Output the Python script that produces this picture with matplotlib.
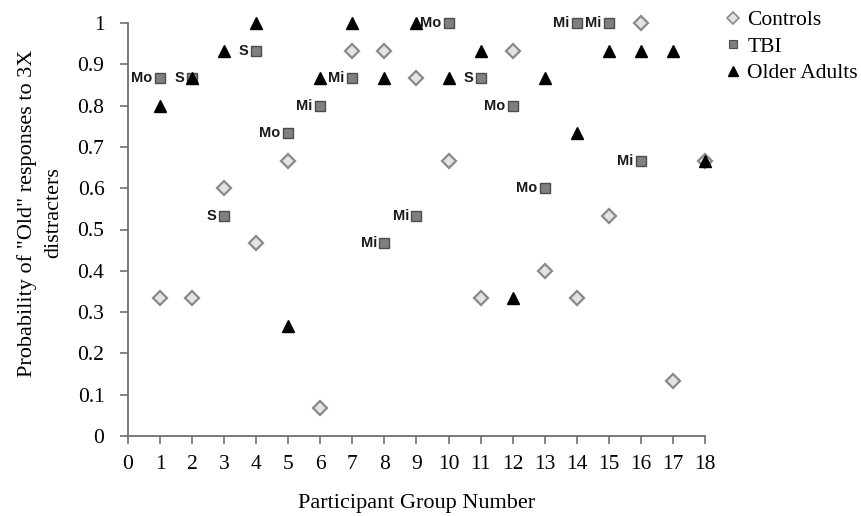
import matplotlib
matplotlib.use("Agg")
from matplotlib import pyplot as plt
from matplotlib.lines import Line2D

# participant groups
groups = list(range(1, 19))
tbi_groups = list(range(1, 17))

# probability of "old" responses to 3X distracters
controls = [0.333, 0.333, 0.6, 0.467, 0.667, 0.067, 0.933, 0.933, 0.867,
            0.667, 0.333, 0.933, 0.4, 0.333, 0.533, 1.0, 0.133, 0.667]
tbi = [0.867, 0.867, 0.533, 0.933, 0.733, 0.8, 0.867, 0.467,
       0.533, 1.0, 0.867, 0.8, 0.6, 1.0, 1.0, 0.667]
tbi_labels = ['Mo', 'S', 'S', 'S', 'Mo', 'Mi', 'Mi', 'Mi',
              'Mi', 'Mo', 'S', 'Mo', 'Mo', 'Mi', 'Mi', 'Mi']
older = [0.8, 0.867, 0.933, 1.0, 0.267, 0.867, 1.0, 0.867, 1.0,
         0.867, 0.933, 0.333, 0.867, 0.733, 0.933, 0.933, 0.933, 0.667]

serif = 'Liberation Serif'

fig = plt.figure(figsize=(8.62, 5.16), dpi=100)
ax = fig.add_axes([128 / 862, 80 / 516, (705 - 128) / 862, (436 - 23) / 516])

ax.plot(groups, controls, linestyle='none', marker='D', ms=7.5,
        mfc='#e3e3e3', mec='#8a8a8a', mew=1.6, clip_on=False, zorder=3)
ax.plot(tbi_groups, tbi, linestyle='none', marker='s', ms=6.5,
        mfc='#808080', mec='#4d4d4d', mew=1.0, clip_on=False, zorder=4)
ax.plot(groups, older, linestyle='none', marker='^', ms=8.5,
        mfc='black', mec='black', clip_on=False, zorder=5)

# severity labels next to the TBI squares
for g, v, lab in zip(tbi_groups, tbi, tbi_labels):
    ax.annotate(lab, (g, v), xytext=(-5.5, 0), textcoords='offset points',
                ha='right', va='center', fontsize=10.5, fontweight='bold',
                family='Liberation Sans', color='#1a1a1a', zorder=6)

ax.set_xlim(0, 18)
ax.set_ylim(0, 1)
ax.set_xticks(range(0, 19))
ax.set_yticks([i / 10 for i in range(0, 11)])
ax.set_yticklabels(['0'] + ['0.%d' % i for i in range(1, 10)] + ['1'])

for side in ['top', 'right']:
    ax.spines[side].set_visible(False)
for side in ['left', 'bottom']:
    ax.spines[side].set_color('#6e6e6e')
    ax.spines[side].set_linewidth(1.3)

ax.tick_params(axis='both', direction='out', length=6, width=1.2,
               color='#6e6e6e', labelsize=15.5)
ax.tick_params(axis='y', pad=11)
ax.tick_params(axis='x', pad=8)
for t in ax.get_xticklabels() + ax.get_yticklabels():
    t.set_family(serif)

ax.set_xlabel('Participant Group Number', family=serif, fontsize=16, labelpad=14)
ax.set_ylabel('Probability of "Old" responses to 3X\ndistracters',
              family=serif, fontsize=16, linespacing=1.55)
ax.yaxis.set_label_coords(-0.112, 0.54)

handles = [
    Line2D([], [], linestyle='none', marker='D', ms=6, mfc='#e3e3e3',
           mec='#8a8a8a', mew=1.2),
    Line2D([], [], linestyle='none', marker='s', ms=5.5, mfc='#808080',
           mec='#4d4d4d', mew=0.8),
    Line2D([], [], linestyle='none', marker='^', ms=7, mfc='black', mec='black'),
]
fig.legend(handles, ['Controls', 'TBI', 'Older Adults'], loc='upper left',
           bbox_to_anchor=(709 / 862, 1 + 5 / 516), frameon=False,
           prop={'family': serif, 'size': 15.5}, handlelength=0.8,
           handletextpad=0.28, labelspacing=0.3, borderpad=0.2)

fig.savefig('out.png', dpi=100)
